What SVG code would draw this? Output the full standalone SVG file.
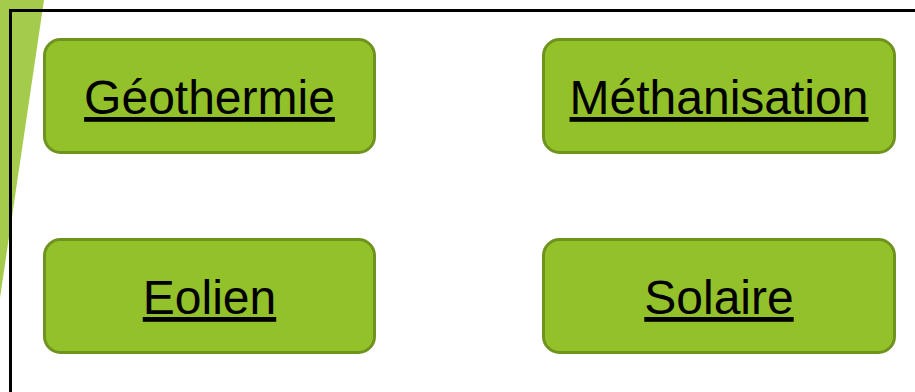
<svg xmlns="http://www.w3.org/2000/svg" width="915" height="392" viewBox="0 0 915 392">
<style>
.box{fill:#93c12a;stroke:#6e931f;stroke-width:3}
.lbl{font-family:"Liberation Sans",Arial,sans-serif;font-size:48px;fill:#000;text-anchor:middle;text-decoration:underline}
</style>
<rect x="0" y="0" width="915" height="392" fill="#ffffff"/>
<polygon points="0,0 44,0 0,298" fill="#a4cb4b"/>
<rect x="10.5" y="10.5" width="920" height="400" fill="none" stroke="#000" stroke-width="3"/>
<g id="connectors"></g>
<g id="geothermie">
<rect class="box" x="44.5" y="39.5" width="330" height="113" rx="16"/>
<text class="lbl" x="209.5" y="114">Géothermie</text>
</g>
<g id="methanisation">
<rect class="box" x="543.5" y="39.5" width="351" height="113" rx="16"/>
<text class="lbl" x="719" y="114">Méthanisation</text>
</g>
<g id="eolien">
<rect class="box" x="44.5" y="239.5" width="330" height="113" rx="16"/>
<text class="lbl" x="209.5" y="314">Eolien</text>
</g>
<g id="solaire">
<rect class="box" x="543.5" y="239.5" width="351" height="113" rx="16"/>
<text class="lbl" x="719" y="314">Solaire</text>
</g>
</svg>
